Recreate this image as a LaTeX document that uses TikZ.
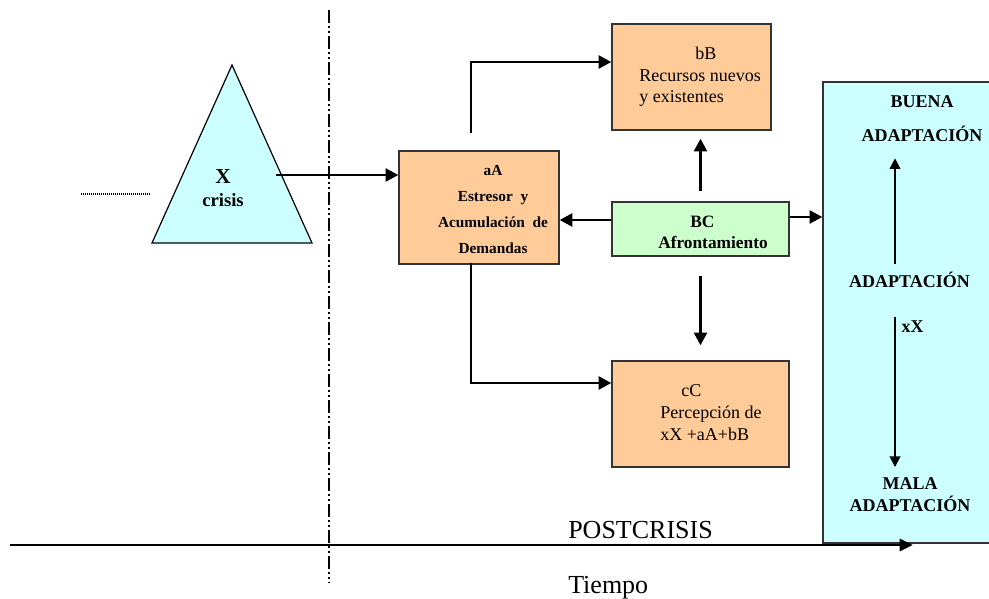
\documentclass[tikz,border=0pt]{standalone}
\usepackage{fontspec}
\setmainfont{Liberation Serif}
\usepackage{tikz}
\usetikzlibrary{arrows.meta}
\usetikzlibrary{positioning}
\definecolor{peach}{HTML}{FFCC99}
\definecolor{aqua}{HTML}{CCFFFF}
\definecolor{mint}{HTML}{CCFFCC}

\begin{document}
\begin{tikzpicture}[x=0.75pt,y=-0.75pt,
    box/.style={draw=black!80,line width=0.9pt,inner sep=0pt},
    flow/.style={line width=2.2pt,-{Triangle[length=9.5pt,width=9.5pt]}},
    thin flow/.style={line width=1.4pt,-{Triangle[length=8pt,width=8pt]}},
    bold text/.style={inner sep=0pt,font=\bfseries\fontsize{11.5}{19.5}\selectfont,align=center},
    plain text/.style={inner sep=0pt,font=\fontsize{13.5}{16}\selectfont,align=left},
    side text/.style={inner sep=0pt,font=\bfseries\fontsize{13.5}{16.5}\selectfont,align=center},
    axis text/.style={inner sep=0pt,font=\fontsize{19.5}{22}\selectfont}]
  \useasboundingbox (0,0) rectangle (989,599);
  % crisis
  \draw[fill=aqua,line width=0.9pt] (232,65) -- (312,243) -- (152,243) -- cycle;
  \node[inner sep=0pt,font=\bfseries\fontsize{14}{17}\selectfont,align=center] (crisis) at (223,188) {{\fontsize{16}{17}\selectfont X}\\crisis};
  \draw[line width=1pt,dash pattern=on 1pt off 0.5pt] (81,194) -- (151,194);
  \draw[line width=1.2pt,dash pattern=on 9.75pt off 2.25pt on 1.5pt off 2.25pt on 1.5pt off 2.25pt] (329,10) -- (329,583);
  % boxes
  \node[box,fill=peach,minimum width=120pt,minimum height=84.75pt] (aA) at (479,207.5) {};
  \node[bold text] (aA text) at (493,210) {aA\\Estresor~~y\\Acumulación~~de\\Demandas};
  \node[box,fill=peach,minimum width=119.25pt,minimum height=79.5pt] (bB) at (691.5,77) {};
  \node[plain text,anchor=west] (bB text) at (639,77) {\hspace*{42pt}bB\\Recursos nuevos\\y existentes};
  \node[box,fill=mint,minimum width=132.75pt,minimum height=40.5pt] (BC) at (700.5,229) {};
  \node[inner sep=0pt,font=\bfseries\fontsize{13}{15.75}\selectfont,align=left,anchor=west] (BC text) at (658,232) {\hspace*{24pt}BC\\Afrontamiento};
  \node[box,fill=peach,minimum width=132.75pt,minimum height=79.5pt] (cC) at (700.5,414) {};
  \node[plain text,font=\fontsize{13.5}{16.5}\selectfont,anchor=west] (cC text) at (660,413) {\hspace*{15.75pt}cC\\Percepción de\\xX +aA+bB};
  \node[box,fill=aqua,minimum width=126pt,minimum height=345.75pt] (adapt) at (907,312.5) {};
  \node[side text,font=\bfseries\fontsize{13.5}{25.5}\selectfont] (good) at (922,119) {BUENA\\ADAPTACIÓN};
  \node[side text] (mid) at (909.5,280) {ADAPTACIÓN};
  \node[side text] (xX) at (912.5,327) {xX};
  \node[side text] (bad) at (910,495) {MALA\\ADAPTACIÓN};
  % connectors
  \coordinate (x out) at (276,175);
  \draw[flow] (x out) -- (x out -| aA.west);
  \draw[flow] ([xshift=-6pt,yshift=12.75pt]aA.north) |- ([yshift=11.25pt]bB.west);
  \draw[flow] ([xshift=-6pt,yshift=1.5pt]aA.south) |- ([yshift=23.25pt]cC.west);
  \coordinate (bc top) at ([yshift=7.5pt]BC.north);
  \coordinate (bb bottom) at ([yshift=-6pt]bB.south);
  \draw[flow] (bc top) -- (bc top |- bb bottom);
  \coordinate (bc bottom) at ([yshift=-14.25pt]BC.south);
  \coordinate (cc top) at ([yshift=11.25pt]cC.north);
  \draw[flow] (bc bottom) -- (bc bottom |- cc top);
  \coordinate (bc left) at ([yshift=6.75pt]BC.west);
  \draw[flow] (bc left) -- (bc left -| aA.east);
  \coordinate (bc right) at ([yshift=9pt]BC.east);
  \draw[flow] (bc right) -- (bc right -| adapt.west);
  \coordinate (spine) at (895,0);
  \draw[thin flow,shorten <=6pt,shorten >=12pt] (spine |- mid.north) -- (spine |- good.south);
  \draw[thin flow,shorten <=-3pt,shorten >=8pt] (spine |- xX.north) -- (spine |- bad.north);
  % time axis
  \coordinate (t0) at (10,545);
  \coordinate (t1) at (913,545);
  \draw[flow,-{Triangle[length=10pt,width=9pt]}] (t0) -- (t1);
  \node[axis text,anchor=base west] (post) at (568,538) {POSTCRISIS};
  \node[axis text,anchor=base west] (time) at (568,593) {Tiempo};
\end{tikzpicture}
\end{document}
